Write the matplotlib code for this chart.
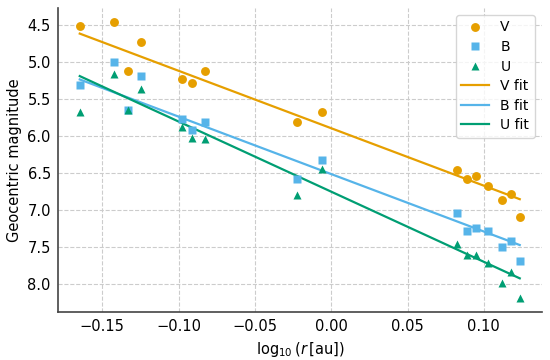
import numpy as np
import matplotlib
matplotlib.use("Agg")
import matplotlib.pyplot as plt

# log10 of heliocentric distance for each observation
log_r = [-0.1647, -0.1425, -0.1333, -0.1248, -0.098, -0.0915, -0.0824, -0.0222,
         -0.0057, 0.0826, 0.0891, 0.0948, 0.1028, 0.1118, 0.1178, 0.1235]
mag_V = [4.51, 4.45, 5.12, 4.72, 5.22, 5.28, 5.12, 5.81,
         5.67, 6.46, 6.58, 6.54, 6.67, 6.86, 6.78, 7.09]
mag_B = [5.31, 5.00, 5.64, 5.19, 5.76, 5.91, 5.81, 6.58,
         6.32, 7.04, 7.28, 7.24, 7.28, 7.50, 7.42, 7.69]
mag_U = [5.67, 5.15, 5.64, 5.36, 5.87, 6.02, 6.04, 6.79,
         6.44, 7.45, 7.60, 7.60, 7.71, 7.98, 7.83, 8.19]

bands = ["V", "B", "U"]
# fitted lines  m = intercept + slope * log10(r), as drawn in the original
fit_slope = [7.77, 7.77, 9.49]
fit_intercept = [5.890, 6.510, 6.748]

colors = ["#E69F00", "#56B4E9", "#009E73"]
markers = ["o", "s", "^"]
mags = [mag_V, mag_B, mag_U]

plt.rcParams["font.family"] = "DejaVu Sans"
plt.rcParams["font.size"] = 10.5

fig, ax = plt.subplots(figsize=(5.5, 3.6), dpi=100)
fig.subplots_adjust(left=0.105, right=0.985, top=0.978, bottom=0.133)

x = np.array(log_r)
for b, m, c, mk in zip(bands, mags, colors, markers):
    ax.plot(x, m, mk, color=c, ms=6.4, mec="none", label=b, zorder=3)

xs = np.array([x.min(), x.max()])
for b, k, a, c in zip(bands, fit_slope, fit_intercept, colors):
    ax.plot(xs, a + k * xs, color=c, lw=1.6, label=b + " fit", zorder=2)

ax.invert_yaxis()
ax.set_xlabel(r"$\log_{10}(r\,[\mathrm{au}])$")
ax.set_ylabel("Geocentric magnitude")
ax.grid(True, ls="--", color="#cccccc", lw=0.8)
ax.set_axisbelow(True)
for s in ["top", "right"]:
    ax.spines[s].set_visible(False)
for s in ["left", "bottom"]:
    ax.spines[s].set_color("#444444")
    ax.spines[s].set_linewidth(1.2)
ax.tick_params(length=0, pad=5)

leg = ax.legend(loc="upper right", fontsize=10, labelspacing=0.4)
leg.get_frame().set_edgecolor("#cccccc")

fig.savefig("out.png", dpi=100)
